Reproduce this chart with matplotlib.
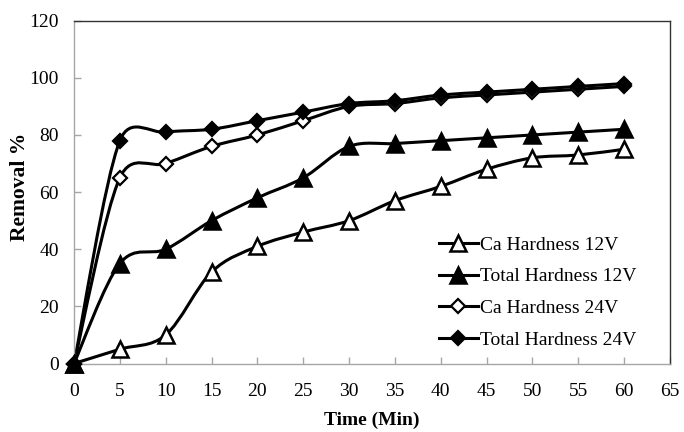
import matplotlib
matplotlib.use("Agg")
import matplotlib.pyplot as plt
from matplotlib.path import Path
from matplotlib.patches import PathPatch
from matplotlib.lines import Line2D
import numpy as np

plt.rcParams['font.family'] = ['Liberation Serif', 'DejaVu Serif']

time_min = [0, 5, 10, 15, 20, 25, 30, 35, 40, 45, 50, 55, 60]
ca_12v = [0, 5, 10, 32, 41, 46, 50, 57, 62, 68, 72, 73, 75]
total_12v = [0, 35, 40, 50, 58, 65, 76, 77, 78, 79, 80, 81, 82]
ca_24v = [0, 65, 70, 76, 80, 85, 90, 91, 93, 94, 95, 96, 97]
total_24v = [0, 78, 81, 82, 85, 88, 91, 92, 94, 95, 96, 97, 98]

series_labels = ["Ca Hardness 12V", "Total Hardness 12V", "Ca Hardness 24V", "Total Hardness 24V"]
x_ticks = list(range(0, 70, 5))
y_ticks = list(range(0, 140, 20))


def smooth_path(ax, xs, ys, k=0.6):
    """Excel-like smoothed line: cubic Bezier segments (tension 1/6),
    computed in display space with control arms limited to k * segment."""
    pts = ax.transData.transform(np.column_stack([xs, ys]).astype(float))
    n = len(pts)
    verts = [pts[0]]
    codes = [Path.MOVETO]

    def arm(i, toward):
        p0 = pts[i - 1] if i > 0 else pts[i]
        p2 = pts[i + 1] if i + 1 < n else pts[i]
        t = (p2 - p0) / 6.0
        seg = np.linalg.norm(pts[toward] - pts[i])
        ln = np.linalg.norm(t)
        if ln > k * seg and ln > 0:
            t = t * (k * seg / ln)
        return t

    for i in range(n - 1):
        c1 = pts[i] + arm(i, i + 1)
        c2 = pts[i + 1] - arm(i + 1, i)
        verts += [c1, c2, pts[i + 1]]
        codes += [Path.CURVE4] * 3
    verts = ax.transData.inverted().transform(np.array(verts))
    return Path(verts, codes)


fig = plt.figure(figsize=(6.84, 4.32), dpi=100)
ax = fig.add_axes([74 / 684, 1 - 363.5 / 432, (670 - 74) / 684, (363.5 - 20.7) / 432])
ax.set_xlim(0, 65)
ax.set_ylim(0, 120)

styles = [
    dict(marker='^', ms=11, mfc='white', mec='black', mew=1.8),
    dict(marker='^', ms=11, mfc='black', mec='black', mew=1.8),
    dict(marker='D', ms=7.5, mfc='white', mec='black', mew=1.6),
    dict(marker='D', ms=7.5, mfc='black', mec='black', mew=1.6),
]
data = [ca_12v, total_12v, ca_24v, total_24v]

handles = []
for ys, st, lab in zip(data, styles, series_labels):
    patch = PathPatch(smooth_path(ax, time_min, ys), facecolor='none', edgecolor='black',
                      lw=2.2, transform=ax.transData, zorder=2)
    ax.add_patch(patch)
    ax.plot(time_min, ys, linestyle='none', zorder=3, clip_on=False, **st)
    handles.append(Line2D([], [], color='black', lw=2.2, label=lab, **st))

ax.set_xticks(x_ticks)
ax.set_yticks(y_ticks)

for side in ['left', 'bottom']:
    ax.spines[side].set_color('#a6a6a6')
    ax.spines[side].set_linewidth(1.0)
for side in ['top', 'right']:
    ax.spines[side].set_color('#333333')
    ax.spines[side].set_linewidth(1.0)

ax.tick_params(axis='both', direction='in', color='#a6a6a6', length=5, width=1.0,
               labelsize=14)
ax.tick_params(axis='x', pad=14)
ax.tick_params(axis='y', pad=11)
ax.tick_params(top=False, right=False)

ax.set_xlabel("Time (Min)", fontsize=14, fontweight='bold')
ax.xaxis.set_label_coords(0.5, (363.5 - 420) / (363.5 - 20.7), transform=ax.transAxes)
ax.xaxis.label.set_va('center')
ax.set_ylabel("Removal %", fontsize=15.5, fontweight='bold')
ax.yaxis.set_label_coords((20 - 74) / (670 - 74), (363.5 - 187) / (363.5 - 20.7),
                          transform=ax.transAxes)
ax.yaxis.label.set_va('center')

leg = ax.legend(handles=handles, loc='lower right', frameon=False, fontsize=14,
                handlelength=2.0, handletextpad=0.1, labelspacing=0.73,
                bbox_to_anchor=((636 - 74) / 596, (363.5 - 349) / 342.8),
                borderaxespad=0.0, borderpad=0.0)

fig.savefig("out.png", dpi=100)
